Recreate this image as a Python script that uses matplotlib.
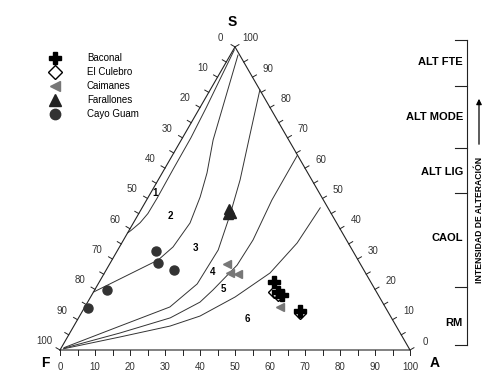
import numpy as np
import matplotlib.pyplot as plt

plt.rcParams['font.family'] = ['Liberation Sans', 'DejaVu Sans']

H = np.sqrt(3) / 2

# samples, ternary percentages: A (bottom axis), S (right axis); F = 100 - A - S
baconal_A = [49.9, 52.7, 54.4, 62.1]
baconal_S = [22.4, 19.1, 18.1, 12.9]
culebro_A = [51.6, 53.2, 62.5]
culebro_S = [19.1, 18.1, 12.2]
caimanes_A = [33.5, 35.9, 38.3, 55.8]
caimanes_S = [28.4, 25.4, 25.1, 14.2]
farallones_A = [25.6, 26.3, 25.0]
farallones_S = [44.9, 45.2, 46.5]
guam_A = [11.1, 13.7, 19.4, 3.5, 1.1]
guam_S = [32.7, 28.7, 26.4, 19.8, 13.9]

# field boundaries (A, S)
curve1_A = [0.3, 1.0, 1.8, 2.4, 2.5, 2.7, 2.6, 1.9, 0.6, 0.0]
curve1_S = [99.0, 90.0, 80.0, 70.0, 60.0, 50.0, 45.0, 42.0, 39.5, 38.6]
curve2_A = [0.0, 13.2, 15.3, 16.2, 14.8, 12.8, 9.1, 2.2]
curve2_S = [19.1, 29.7, 34.0, 41.9, 50.5, 58.4, 69.3, 97.3]
curve3_A = [0.8, 13.2, 24.3, 28.3, 28.7, 26.3, 23.4, 18.8, 14.2]
curve3_S = [0.8, 7.9, 14.2, 21.8, 33.0, 44.5, 56.1, 70.9, 85.8]
curve4_A = [0.8, 14.3, 26.2, 32.1, 33.8, 36.6, 37.0, 35.8, 35.7]
curve4_S = [0.6, 5.6, 10.6, 15.8, 19.8, 28.0, 36.3, 49.5, 64.3]
curve5_A = [0.8, 15.0, 27.5, 34.4, 41.3, 47.3, 50.1, 50.9]
curve5_S = [0.4, 4.3, 7.9, 11.2, 17.5, 25.4, 35.3, 46.9]

zone_names = ['1', '2', '3', '4', '5', '6']
zone_A = [1.2, 9.3, 21.8, 30.8, 36.5, 48.3]
zone_S = [51.8, 44.2, 33.7, 25.7, 20.1, 10.2]

scale_labels = ['ALT FTE', 'ALT MODE', 'ALT LIG', 'CAOL', 'RM']


def tern(a, s):
    a = np.asarray(a, float)
    s = np.asarray(s, float)
    return a + s / 2, s * H


fig = plt.figure(figsize=(5.04, 3.79), dpi=100)
ax = fig.add_axes([0, 0, 1, 1])
ax.set_xlim(-60 / 3.5, 444 / 3.5)
ax.set_ylim(-29 / 3.5, 350 / 3.5)
ax.axis('off')

edge = '#222222'
ax.plot([0, 100, 50, 0], [0, 0, 50 * 2 * H, 0], color=edge, lw=0.8)

tl = 1.3
for v in range(0, 101, 5):
    # bottom (A)
    ax.plot([v, v], [0, -tl], color=edge, lw=0.7)
    # left (F)
    x, y = tern(0, 100 - v)
    ax.plot([x, x - tl * H], [y, y + tl * 0.5], color=edge, lw=0.7)
    # right (S)
    x2, y2 = tern(100 - v, v)
    ax.plot([x2, x2 + tl * H], [y2, y2 + tl * 0.5], color=edge, lw=0.7)
    if v % 10 == 0:
        ax.text(v, -4.9, str(v), fontsize=7, ha='center', va='center', color='#333')
        ax.text(x - 5 * H, y + 2.6, str(v), fontsize=7, ha='center', va='center', color='#333')
        ax.text(x2 + 5.2 * H, y2 + 2.4, str(v), fontsize=7, ha='center', va='center', color='#333')

ax.text(49.1, 93.6, 'S', fontsize=10, fontweight='bold', ha='center', va='center')
ax.text(-4.3, -3.7, 'F', fontsize=10, fontweight='bold', ha='center', va='center')
ax.text(107.1, -3.7, 'A', fontsize=10, fontweight='bold', ha='center', va='center')

for ca, cs in [(curve1_A, curve1_S), (curve2_A, curve2_S), (curve3_A, curve3_S),
               (curve4_A, curve4_S), (curve5_A, curve5_S)]:
    x, y = tern(ca, cs)
    ax.plot(x, y, color='#333333', lw=0.7)

for name, za, zs in zip(zone_names, zone_A, zone_S):
    x, y = tern(za, zs)
    ax.text(x, y, name, fontsize=7, fontweight='bold', ha='center', va='center')

x, y = tern(farallones_A, farallones_S)
h_far, = ax.plot(x, y, '^', ms=7, color='#222222', ls='none', label='Farallones')
x, y = tern(guam_A, guam_S)
h_guam, = ax.plot(x, y, 'o', ms=6.5, color='#333333', ls='none', label='Cayo Guam')
x, y = tern(caimanes_A, caimanes_S)
h_cai, = ax.plot(x, y, '<', ms=6, color='#777777', ls='none', label='Caimanes')
x, y = tern(baconal_A, baconal_S)
h_bac, = ax.plot(x, y, 'P', ms=8, color='black', ls='none', label='Baconal')
x, y = tern(culebro_A, culebro_S)
h_cul, = ax.plot(x, y, 'D', ms=6, mfc='none', mec='black', mew=1.0, ls='none', label='El Culebro')

leg = ax.legend(handles=[h_bac, h_cul, h_cai, h_far, h_guam], loc='upper left',
                bbox_to_anchor=(50 / 504, 1 - 53 / 379), bbox_transform=fig.transFigure,
                frameon=False, fontsize=7, handlelength=1.0, handletextpad=2.8,
                borderpad=0, borderaxespad=0, labelspacing=0.42, markerscale=1.15)
leg.legend_handles[1].set_markerfacecolor('white')

# alteration intensity scale on the right
def fx(px):
    return px / 504


def fy(py):
    return 1 - py / 379


tf = fig.transFigure
ax.plot([fx(467), fx(467)], [fy(40), fy(345)], color=edge, lw=0.8, transform=tf)
for py in [40, 86, 148, 193, 287, 345]:
    ax.plot([fx(455), fx(467)], [fy(py), fy(py)], color=edge, lw=0.8, transform=tf)
for lab, py in zip(scale_labels, [62, 117, 172, 238, 323]):
    ax.text(fx(463), fy(py), lab, fontsize=8, fontweight='bold', ha='right', va='center',
            transform=tf)
ax.annotate('', xy=(fx(479), fy(96)), xytext=(fx(479), fy(147)), xycoords='figure fraction',
            arrowprops=dict(arrowstyle='-|>', color='black', lw=0.9, mutation_scale=8))
ax.text(fx(479), fy(220), 'INTENSIDAD DE ALTERACIÓN', fontsize=6.2, fontweight='bold',
        rotation=90, ha='center', va='center', transform=tf)

fig.savefig('out.png', dpi=100)
